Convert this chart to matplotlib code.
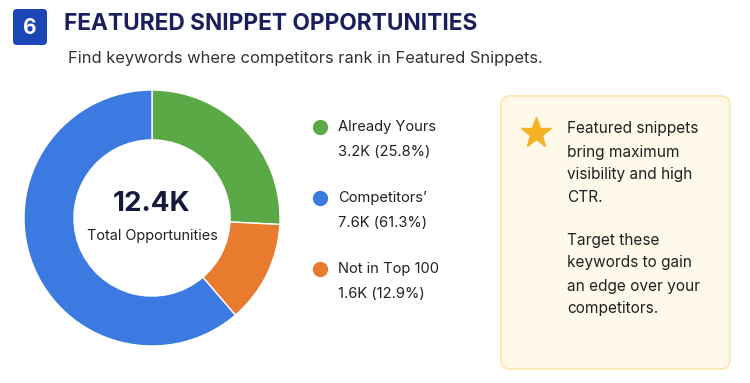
import matplotlib.pyplot as plt
from matplotlib.patches import FancyBboxPatch

plt.rcParams['font.family'] = ['Inter', 'DejaVu Sans']

# data (clockwise from top)
labels = ["Already Yours", "Not in Top 100", "Competitors’"]
values = [3.2, 1.6, 7.6]
colors = ["#5BA946", "#E97B2E", "#3C79E0"]
legend_order = [0, 2, 1]
total_text = "12.4K"

fig = plt.figure(figsize=(7.5, 3.83), dpi=100)
fig.patch.set_facecolor("white")

# overlay axes in pixel coords
ax0 = fig.add_axes([0, 0, 1, 1])
ax0.set_xlim(0, 750)
ax0.set_ylim(383, 0)
ax0.axis("off")

# header
ax0.add_patch(FancyBboxPatch((13, 9), 34, 36, boxstyle="round,pad=0,rounding_size=4",
                             fc="#1B46B5", ec="none"))
ax0.text(30, 27.5, "6", color="white", fontsize=15, fontweight="bold", ha="center", va="center")
ax0.text(64, 24.5, "FEATURED SNIPPET OPPORTUNITIES", color="#1B1F5E", fontsize=16.3,
         fontweight="bold", ha="left", va="center")
ax0.text(68, 59, "Find keywords where competitors rank in Featured Snippets.", color="#333333",
         fontsize=11.9, ha="left", va="center")

# donut
axp = fig.add_axes([24 / 750, 37 / 383, 256 / 750, 256 / 383])
axp.pie(values, colors=colors, startangle=90, counterclock=False, radius=1,
        wedgeprops=dict(width=0.39, edgecolor="white", linewidth=1))
axp.set_xlim(-1, 1)
axp.set_ylim(-1, 1)
axp.text(0, 0.11, total_text, fontsize=20, fontweight="bold", color="#141A3C", ha="center", va="center")
axp.text(0, -0.14, "Total Opportunities", fontsize=10.4, color="#222222", ha="center", va="center")

# legend
total = sum(values)
for row, i in enumerate(legend_order):
    y = 127 + row * 71
    ax0.plot(320, y, "o", ms=11, color=colors[i], mec="none")
    ax0.text(338, y, labels[i], fontsize=10.6, color="#222222", ha="left", va="center")
    ax0.text(338, y + 25, f"{values[i]:.1f}K ({values[i] / total * 100:.1f}%)", fontsize=10.6,
             color="#222222", ha="left", va="center")

# tip box
ax0.add_patch(FancyBboxPatch((501, 96), 229, 273, boxstyle="round,pad=0,rounding_size=9",
                             fc="#FFF9E9", ec="#FBE6A8", lw=1.2))
ax0.plot(536, 133, "*", ms=23, color="#F3B223", mec="#F3B223")
tip_lines = ["Featured snippets", "bring maximum", "visibility and high", "CTR.", "",
             "Target these", "keywords to gain", "an edge over your", "competitors."]
y = 129
for line in tip_lines:
    if line:
        ax0.text(567, y, line, fontsize=11.1, color="#222222", ha="left", va="center")
    y += 23 if line else 19

fig.savefig("out.png", dpi=100, facecolor="white")
